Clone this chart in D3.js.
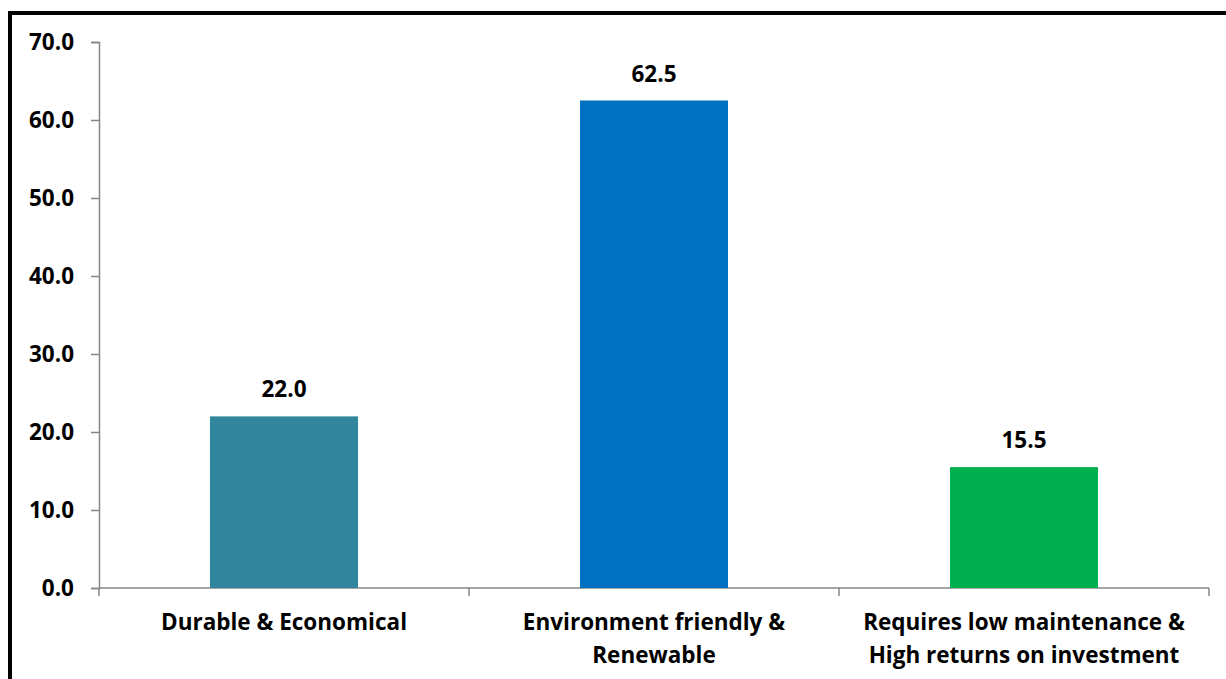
<!DOCTYPE html>
<html>
<head>
<meta charset="utf-8">
<script src="https://cdn.jsdelivr.net/npm/d3@7"></script>
<style>
  html, body { margin: 0; padding: 0; background: #fff; }
  svg { display: block; }
  text { font-family: "Open Sans", "Noto Sans", sans-serif; font-weight: 700; fill: #000; }
</style>
</head>
<body>
<svg id="chart" width="1226" height="679"></svg>
<script>
// Reasons given, percentage of respondents
const categories = [
  ["Durable & Economical"],
  ["Environment friendly &", "Renewable"],
  ["Requires low maintenance &", "High returns on investment"]
];
const values = [22.0, 62.5, 15.5];
const barColors = ["#31859C", "#0070C0", "#00B050"];
const yTicks = [0, 10, 20, 30, 40, 50, 60, 70];

const svg = d3.select("#chart");
const W = 1226, H = 679;
const plotLeft = 99, plotRight = 1209, plotTop = 42, plotBottom = 588;
const fontSize = 22.5;

// outer frame (left and top edges visible)
svg.append("rect")
  .attr("x", 10).attr("y", 13)
  .attr("width", W + 20).attr("height", H + 20)
  .attr("fill", "none").attr("stroke", "#000").attr("stroke-width", 4);

const x = d3.scaleBand()
  .domain(d3.range(categories.length))
  .range([plotLeft, plotRight])
  .paddingInner(0.6).paddingOuter(0.3);

const y = d3.scaleLinear().domain([0, 70]).range([plotBottom, plotTop]);

// y axis
const yAxis = svg.append("g")
  .attr("transform", `translate(${plotLeft},0)`)
  .call(d3.axisLeft(y).tickValues(yTicks).tickFormat(d3.format(".1f")).tickSize(8).tickPadding(17));
yAxis.select(".domain").attr("stroke", "#868686").attr("stroke-width", 1.5);
yAxis.selectAll(".tick line").attr("stroke", "#868686").attr("stroke-width", 1.5);
yAxis.selectAll(".tick text")
  .attr("font-family", "Open Sans, Noto Sans, sans-serif")
  .attr("font-weight", 700).attr("font-size", fontSize).attr("fill", "#000");

// x axis baseline with category separators
const xg = svg.append("g");
xg.append("line")
  .attr("x1", plotLeft).attr("x2", plotRight)
  .attr("y1", y(0)).attr("y2", y(0))
  .attr("stroke", "#868686").attr("stroke-width", 1.5);
const step = (plotRight - plotLeft) / categories.length;
xg.selectAll("line.sep")
  .data(d3.range(categories.length + 1))
  .join("line")
  .attr("class", "sep")
  .attr("x1", i => plotLeft + i * step).attr("x2", i => plotLeft + i * step)
  .attr("y1", y(0)).attr("y2", y(0) + 8)
  .attr("stroke", "#868686").attr("stroke-width", 1.5);

// bars
svg.selectAll("rect.bar")
  .data(values)
  .join("rect")
  .attr("class", "bar")
  .attr("x", (d, i) => x(i))
  .attr("width", x.bandwidth())
  .attr("y", d => y(d))
  .attr("height", d => y(0) - y(d))
  .attr("fill", (d, i) => barColors[i]);

// value labels
svg.selectAll("text.val")
  .data(values)
  .join("text")
  .attr("class", "val")
  .attr("x", (d, i) => x(i) + x.bandwidth() / 2)
  .attr("y", d => y(d) - 19)
  .attr("text-anchor", "middle")
  .attr("font-size", fontSize)
  .text(d => d.toFixed(1));

// category labels
const cl = svg.selectAll("text.cat")
  .data(categories)
  .join("text")
  .attr("class", "cat")
  .attr("text-anchor", "middle")
  .attr("font-size", fontSize)
  .attr("y", 630);
cl.selectAll("tspan")
  .data((d, i) => d.map(s => ({ s, i })))
  .join("tspan")
  .attr("x", d => x(d.i) + x.bandwidth() / 2)
  .attr("dy", (d, j) => j === 0 ? 0 : 33)
  .text(d => d.s);
</script>
</body>
</html>
